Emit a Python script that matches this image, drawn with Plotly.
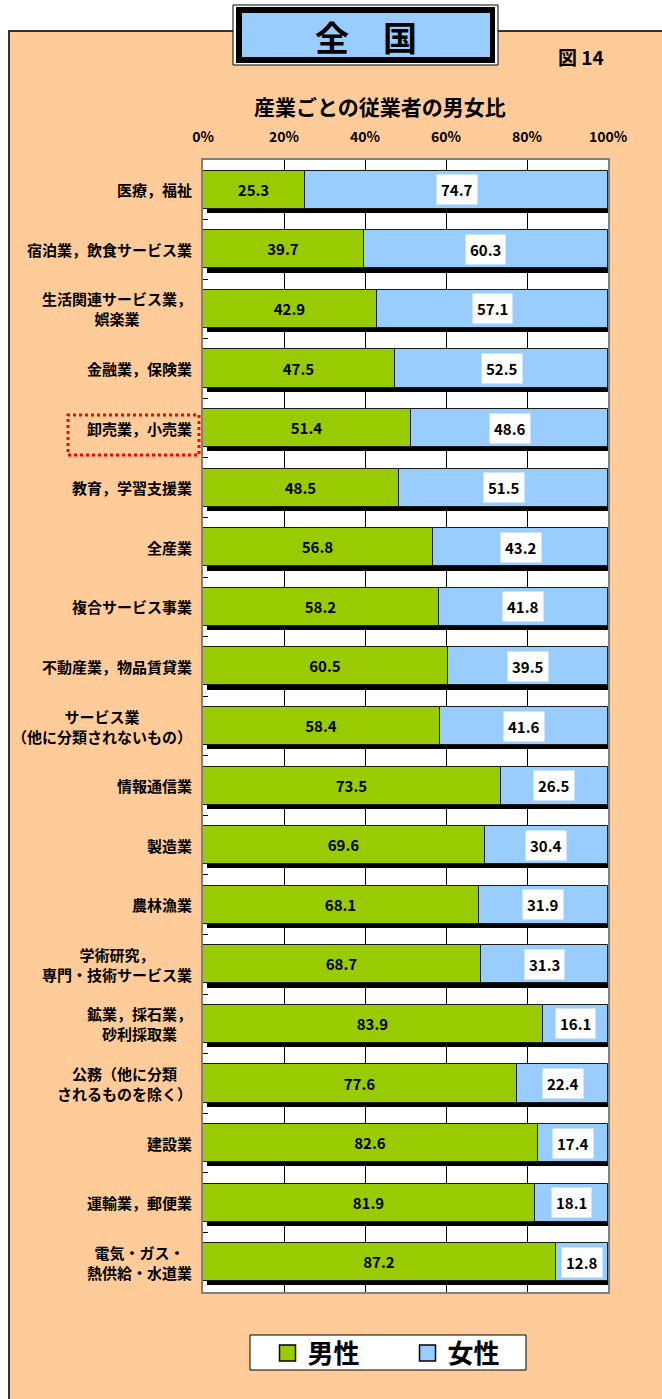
import plotly.graph_objects as go

categories = [
    "医療，福祉",
    "宿泊業，飲食サービス業",
    "生活関連サービス業，<br>娯楽業",
    "金融業，保険業",
    "卸売業，小売業",
    "教育，学習支援業",
    "全産業",
    "複合サービス事業",
    "不動産業，物品賃貸業",
    "サービス業<br>（他に分類されないもの）",
    "情報通信業",
    "製造業",
    "農林漁業",
    "学術研究，<br>専門・技術サービス業",
    "鉱業，採石業，<br>砂利採取業",
    "公務（他に分類<br>されるものを除く）",
    "建設業",
    "運輸業，郵便業",
    "電気・ガス・<br>熱供給・水道業",
]
male = [25.3, 39.7, 42.9, 47.5, 51.4, 48.5, 56.8, 58.2, 60.5, 58.4,
        73.5, 69.6, 68.1, 68.7, 83.9, 77.6, 82.6, 81.9, 87.2]
female = [74.7, 60.3, 57.1, 52.5, 48.6, 51.5, 43.2, 41.8, 39.5, 41.6,
          26.5, 30.4, 31.9, 31.3, 16.1, 22.4, 17.4, 18.1, 12.8]
series_names = ["男性", "女性"]
series_colors = ["#99CC00", "#99CCFF"]
tick_vals = [0, 20, 40, 60, 80, 100]
tick_text = ["0%", "20%", "40%", "60%", "80%", "100%"]

idx = list(range(len(categories)))
JP = "Noto Sans CJK JP"
NUM = "Liberation Sans Narrow, Noto Sans CJK JP"

W, H = 662, 1399
L, R, T, B = 203, 608, 160, 1292


def px(x):
    return (x - L) / (R - L)


def py(y):
    return (B - y) / (B - T)


BW = 0.64
fig = go.Figure()
# drop shadow (3D effect)
fig.add_trace(go.Bar(
    y=idx, x=[100] * len(idx), base=[1] * len(idx), orientation="h",
    width=BW, offset=-BW / 2 + 0.07, marker=dict(color="#000000", line=dict(width=0)),
    showlegend=False, hoverinfo="skip", cliponaxis=False,
))
fig.add_trace(go.Bar(
    y=idx, x=male, base=[0] * len(idx), orientation="h", name=series_names[0],
    width=BW, marker=dict(color=series_colors[0], line=dict(color="#1a1a1a", width=1)),
    texttemplate="<b>%{x:.1f}</b>", textposition="inside", insidetextanchor="middle",
    textangle=0, constraintext="none", showlegend=False,
    textfont=dict(family=NUM, size=15, color="#000000"),
))
fig.add_trace(go.Bar(
    y=idx, x=female, base=male, orientation="h", name=series_names[1], showlegend=False,
    width=BW, marker=dict(color=series_colors[1], line=dict(color="#1a1a1a", width=1)),
))
# legend entries (square swatches)
for nm, col in zip(series_names, series_colors):
    fig.add_trace(go.Scatter(
        x=[None], y=[None], mode="markers", name="<b>" + nm + "</b>",
        marker=dict(symbol="square", size=16, color=col, line=dict(color="#000000", width=1.5)),
        hoverinfo="skip",
    ))

ann = []
for i, (c, m, f) in enumerate(zip(categories, male, female)):
    ann.append(dict(x=0, xref="paper", y=i, yref="y", xanchor="right", yanchor="middle",
                    xshift=-9, text="<b>" + c + "</b>", showarrow=False, align="center",
                    font=dict(family=JP, size=15, color="#000000")))
    ann.append(dict(x=m + f / 2, xref="x", y=i, yref="y", xanchor="center", yanchor="middle",
                    text="<b>%.1f</b>" % f, showarrow=False, bgcolor="#FFFFFF", borderpad=4,
                    font=dict(family=NUM, size=15, color="#000000")))

ann.append(dict(x=px(366), y=py(36), xref="paper", yref="paper", xanchor="center",
                yanchor="middle", text="<b>全　国</b>",
                showarrow=False, font=dict(family=JP, size=34, color="#000000")))
ann.append(dict(x=px(581), y=py(56), xref="paper", yref="paper", xanchor="center",
                yanchor="middle", text="<b>図 14</b>",
                showarrow=False, font=dict(family=JP, size=19, color="#000000")))
ann.append(dict(x=px(380), y=py(106), xref="paper", yref="paper", xanchor="center",
                yanchor="middle", text="<b>産業ごとの従業者の男女比</b>",
                showarrow=False, font=dict(family=JP, size=21, color="#000000")))

shapes = [
    dict(type="rect", xref="paper", yref="paper", x0=px(9), x1=px(680), y0=py(1420), y1=py(31),
         fillcolor="#FFCC99", line=dict(color="#333333", width=2), layer="below"),
    dict(type="rect", xref="paper", yref="paper", x0=0, x1=1, y0=0, y1=1,
         fillcolor="#FFFFFF", line=dict(width=0), layer="below"),
    # title box
    dict(type="rect", xref="paper", yref="paper", x0=px(233), x1=px(498), y0=py(65), y1=py(5),
         fillcolor="#FFFFFF", line=dict(color="#000000", width=1), layer="above"),
    dict(type="rect", xref="paper", yref="paper", x0=px(236), x1=px(495), y0=py(63), y1=py(7),
         fillcolor="#000000", line=dict(width=0), layer="above"),
    dict(type="rect", xref="paper", yref="paper", x0=px(242), x1=px(490), y0=py(57), y1=py(13),
         fillcolor="#99CCFF", line=dict(width=0), layer="above"),
    # highlight box
    dict(type="rect", xref="paper", yref="paper", x0=px(68), x1=px(199), y0=py(455), y1=py(415),
         fillcolor="rgba(0,0,0,0)", line=dict(color="#FF0000", width=3, dash="dot"), layer="above"),
    # legend frame
    dict(type="rect", xref="paper", yref="paper", x0=px(250), x1=px(526), y0=py(1370), y1=py(1335),
         fillcolor="#FFFFFF", line=dict(color="#000000", width=1), layer="below"),
]

fig.update_layout(
    width=W, height=H, autosize=False,
    margin=dict(l=L, r=W - R, t=T, b=H - B, pad=0),
    paper_bgcolor="#FFFFFF", plot_bgcolor="#FFFFFF",
    barmode="overlay", bargap=0,
    showlegend=True,
    legend=dict(orientation="h", x=px(267.5), y=py(1353), xanchor="left", yanchor="middle",
                bgcolor="rgba(0,0,0,0)", borderwidth=0, itemsizing="trace",
                font=dict(family=JP, size=26, color="#000000"),
                entrywidth=95, entrywidthmode="pixels", itemclick=False),
    annotations=ann, shapes=shapes,
    font=dict(family=JP, color="#000000"),
)
fig.update_xaxes(range=[0, 100], side="top", tickvals=tick_vals,
                 ticktext=["<b>%s</b>" % t for t in tick_text],
                 tickfont=dict(family=NUM, size=14, color="#000000"),
                 showgrid=True, gridcolor="#000000", gridwidth=1, zeroline=False,
                 showline=True, mirror=True, linecolor="#808080", linewidth=2, ticks="",
                 ticklabelstandoff=10, fixedrange=True)
fig.update_yaxes(range=[len(idx) - 0.5, -0.5], showticklabels=False, showgrid=False,
                 tickvals=[i + 0.5 for i in idx[:-1]], ticks="inside", ticklen=5,
                 tickcolor="#000000", tickwidth=1,
                 zeroline=False, showline=True, mirror=True, linecolor="#808080", linewidth=2,
                 fixedrange=True)

fig.write_html("out.html", config={"displayModeBar": False},
               post_script="document.body.style.margin='0px';")
